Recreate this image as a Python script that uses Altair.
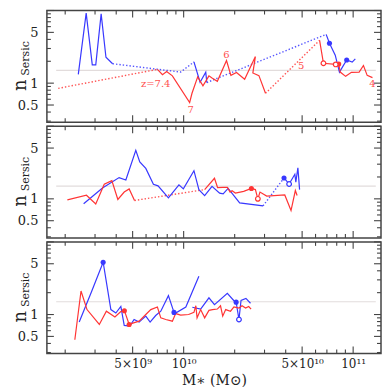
import altair as alt
import pandas as pd

# ---------------- data (M* in solar masses, n_Sersic) ----------------
# Panel 1
P1_BLUE_M = [2.39e9, 2.66e9, 2.89e9, 3.03e9, 3.26e9, 3.48e9, 3.81e9, 9.6e9, 1.15e10, 1.25e10,
             1.35e10, 1.37e10, 6.93e10, 7.25e10, 7.84e10, 8.3e10, 9.16e10, 9.87e10, 1.03e11]
P1_BLUE_N = [1.32, 9.2, 1.79, 1.79, 9.0, 2.27, 1.85, 1.42, 1.96, 1.03,
             1.42, 1.02, 4.69, 3.55, 2.43, 1.42, 2.08, 1.95, 2.16]
P1_BLUE_DOTTED = [6, 7, 11]
P1_RED_M = [1.82e9, 7.0e9, 7.5e9, 7.94e9, 8.58e9, 1.085e10, 1.12e10, 1.21e10, 1.3e10, 1.41e10,
            1.47e10, 1.58e10, 1.79e10, 1.9e10, 2.05e10, 2.29e10, 2.65e10, 2.56e10, 2.78e10, 3.04e10,
            6.34e10, 6.68e10, 7.89e10, 8.22e10, 8.39e10, 9.03e10, 9.77e10, 1.085e11, 1.15e11, 1.21e11, 1.3e11]
P1_RED_N = [0.848, 1.55, 1.31, 1.45, 1.26, 0.542, 0.726, 1.22, 0.92, 1.26,
            1.18, 1.06, 2.05, 1.28, 1.4, 1.13, 2.32, 1.38, 1.27, 0.726,
            3.89, 1.88, 1.81, 1.83, 1.42, 1.24, 1.41, 1.42, 1.75, 1.28, 1.19]
P1_RED_DOTTED = [0, 19]
P1_MARK_M = [7.25e10, 9.16e10, 6.68e10, 7.89e10, 8.22e10]
P1_MARK_N = [3.55, 2.08, 1.88, 1.81, 1.83]
P1_MARK_C = ["b", "b", "r", "r", "r"]
P1_MARK_FILLED = [True, True, False, False, True]
P1_LABEL_T = ["z=7.4", "7", "6", "5", "4"]
P1_LABEL_M = [6.84e9, 1.1e10, 1.79e10, 4.94e10, 1.30e11]
P1_LABEL_N = [0.98, 0.43, 2.47, 1.71, 0.97]

# Panel 2
P2_BLUE_M = [2.57e9, 3.32e9, 4.16e9, 4.56e9, 5.22e9, 5.51e9, 5.98e9, 6.63e9, 7.06e9, 8.13e9,
             9.38e9, 9.96e9, 1.15e10, 1.23e10, 1.33e10, 1.47e10, 1.63e10, 1.71e10, 1.83e10, 2.14e10,
             2.94e10, 3.91e10, 4.19e10, 4.53e10, 4.59e10, 4.72e10, 4.83e10]
P2_BLUE_N = [0.855, 1.41, 1.96, 1.82, 4.64, 3.23, 2.62, 1.59, 1.51, 1.03,
             1.56, 1.37, 2.44, 1.34, 1.11, 1.49, 1.2, 1.17, 1.39, 0.88,
             0.8, 1.94, 1.6, 2.18, 1.7, 2.68, 1.34]
P2_BLUE_DOTTED = [20]
P2_RED_M = [2.06e9, 2.67e9, 3.03e9, 3.4e9, 3.77e9, 4.09e9, 4.46e9, 4.77e9, 5.13e9, 1.33e10,
            1.52e10, 1.585e10, 1.7e10, 1.81e10, 1.88e10, 1.93e10, 2.02e10, 2.26e10, 2.51e10, 2.65e10,
            2.74e10, 2.82e10, 3.09e10, 3.95e10, 4.3e10, 4.56e10, 4.67e10]
P2_RED_N = [0.97, 1.12, 0.85, 1.59, 1.78, 0.98, 1.24, 1.37, 0.95, 1.34,
            1.92, 1.43, 1.44, 1.44, 1.24, 1.29, 1.2, 1.27, 1.39, 1.34,
            1.0, 1.24, 1.09, 1.13, 0.69, 1.3, 1.11]
P2_RED_DOTTED = [8]
P2_MARK_M = [2.51e10, 2.74e10, 3.91e10, 4.19e10]
P2_MARK_N = [1.39, 1.0, 1.94, 1.6]
P2_MARK_C = ["r", "r", "b", "b"]
P2_MARK_FILLED = [True, False, True, False]

# Panel 3
P3_BLUE_A_M = [2.42e9, 2.84e9, 3.35e9, 3.72e9, 3.98e9, 4.26e9, 4.46e9, 4.81e9, 5.1e9, 5.46e9,
               5.98e9, 6.34e9, 6.84e9, 7.33e9, 8.13e9, 8.77e9, 8.97e9, 1.03e10, 1.23e10]
P3_BLUE_A_N = [0.787, 1.98, 5.25, 1.17, 1.05, 1.29, 0.71, 0.695, 0.855, 0.787,
               0.95, 0.787, 0.97, 1.11, 1.82, 1.07, 1.05, 1.27, 3.37]
P3_BLUE_B_M = [1.125e10, 1.26e10, 1.41e10, 1.52e10, 1.81e10, 1.98e10, 2.04e10, 2.12e10, 2.18e10, 2.33e10, 2.48e10]
P3_BLUE_B_N = [1.26, 1.19, 1.7, 1.37, 1.96, 1.55, 1.48, 0.855, 1.56, 1.67, 1.43]
P3_RED_M = [2.28e9, 2.48e9, 2.69e9, 3.18e9, 3.5e9, 3.93e9, 4.26e9, 4.47e9, 4.77e9, 5.01e9,
            5.46e9, 5.98e9, 6.4e9, 7.0e9, 7.33e9, 7.84e9, 8.58e9, 8.97e9, 9.6e9, 1.07e10,
            1.15e10, 1.18e10, 1.2e10, 1.26e10, 1.33e10, 1.41e10, 1.48e10, 1.58e10, 1.65e10, 1.70e10,
            1.77e10, 1.89e10, 1.98e10, 2.12e10, 2.21e10, 2.32e10, 2.42e10, 2.5e10]
P3_RED_N = [0.45, 2.11, 1.17, 0.73, 1.11, 0.925, 1.1, 1.13, 0.73, 0.76,
            0.81, 1.0, 1.17, 1.27, 0.9, 0.855, 0.81, 1.03, 0.98, 1.0,
            1.07, 1.32, 0.9, 1.17, 0.9, 1.14, 1.17, 1.19, 1.32, 0.95,
            1.17, 1.11, 1.27, 1.23, 1.32, 1.23, 1.29, 1.19]
P3_MARK_M = [3.35e9, 8.77e9, 2.04e10, 2.12e10, 4.47e9, 4.77e9]
P3_MARK_N = [5.25, 1.07, 1.48, 0.855, 1.13, 0.73]
P3_MARK_C = ["b", "b", "b", "b", "r", "r"]
P3_MARK_FILLED = [True, True, True, False, True, True]

REF_M = [1.77e9, 1.36e11]
REF_N = [1.5, 1.5]

X_MAJOR = [5e9, 1e10, 5e10, 1e11]
X_MINOR = [2e9, 3e9, 4e9, 6e9, 7e9, 8e9, 9e9, 2e10, 3e10, 4e10, 6e10, 7e10, 8e10, 9e10]
Y_MAJOR = [0.5, 1, 5, 10]
Y_MINOR = [0.3, 0.4, 0.6, 0.7, 0.8, 0.9, 2, 3, 4, 6, 7, 8, 9]
Y_LABELS = [0.5, 1, 5]

# ---------------- styling ----------------
W, H = 335, 112
BLUE, RED = "#3838ff", "#ff3535"
FONT = "DejaVu Serif"
FRAME = "#444444"
xs = alt.Scale(type="log", domain=[1.56e9, 1.46e11], nice=False)
ys = alt.Scale(type="log", domain=[0.29, 10], nice=False)
cscale = alt.Scale(domain=["b", "r"], range=[BLUE, RED])

x_axis_bottom = alt.Axis(
    values=X_MAJOR, ticks=False, domain=False, grid=False,
    labelExpr="datum.value == 5e9 ? '5×10⁹' : datum.value == 1e10 ? '10¹⁰' : datum.value == 5e10 ? '5×10¹⁰' : '10¹¹'",
    labelFont=FONT, labelFontSize=12, labelColor="#222", labelPadding=5,
    title="M\u2217 (M\u2299)", titleFont=FONT, titleFontSize=14, titleFontWeight="normal",
    titleColor="#222", titlePadding=4)
y_axis = alt.Axis(values=Y_LABELS, format="~g", ticks=False, domain=False, grid=False,
                  labelFont=FONT, labelFontSize=13, labelColor="#222", labelPadding=9,
                  title=None)


def runs(m, n, dotted, name):
    rows = []
    seg = 0
    cur = None
    for i in range(len(m) - 1):
        style = "dot" if i in dotted else "solid"
        if style != cur:
            seg += 1
            cur = style
            rows.append(dict(m=m[i], n=n[i], seg=f"{name}{seg}", style=style, c=name[0], o=i))
        rows.append(dict(m=m[i + 1], n=n[i + 1], seg=f"{name}{seg}", style=style, c=name[0], o=i + 1))
    return rows


def panel(paths, marks, labels=None, bottom=False):
    xa = x_axis_bottom if bottom else None

    def X(f):
        return alt.X(f"{f}:Q", scale=xs, axis=xa)

    def Y(f):
        return alt.Y(f"{f}:Q", scale=ys, axis=y_axis)

    rows = []
    for p in paths:
        rows += runs(*p)
    df = pd.DataFrame(rows)
    layers = []
    ref = pd.DataFrame({"m": REF_M, "n": REF_N})
    layers.append(alt.Chart(ref).mark_line(color="#e2dcdc", strokeWidth=1.2).encode(x=X("m"), y=Y("n")))
    for style, kw in [("dot", dict(strokeDash=[1.4, 2.0], strokeWidth=1.4, opacity=0.85)),
                      ("solid", dict(strokeWidth=1.2))]:
        sub = df[df["style"] == style]
        if len(sub):
            layers.append(alt.Chart(sub).mark_line(**kw).encode(
                x=X("m"), y=Y("n"),
                color=alt.Color("c:N", scale=cscale, legend=None),
                detail="seg:N", order="o:Q"))
    mk = pd.DataFrame({"m": marks[0], "n": marks[1], "c": marks[2], "f": marks[3]})
    layers.append(alt.Chart(mk[mk["f"]]).mark_circle(size=26, opacity=1).encode(
        x=X("m"), y=Y("n"), color=alt.Color("c:N", scale=cscale, legend=None)))
    if (~mk["f"]).any():
        layers.append(alt.Chart(mk[~mk["f"]]).mark_point(size=22, strokeWidth=1.2, filled=False,
                                                         fill="white", fillOpacity=1, opacity=1).encode(
            x=X("m"), y=Y("n"), color=alt.Color("c:N", scale=cscale, legend=None)))
    if labels is not None:
        lb = pd.DataFrame({"t": labels[0], "m": labels[1], "n": labels[2]})
        layers.append(alt.Chart(lb).mark_text(font=FONT, fontSize=10, color="#ff5050").encode(
            x=X("m"), y=Y("n"), text="t:N"))
    # inward ticks on all four sides
    for vals, ln in [(X_MAJOR, 7), (X_MINOR, 4)]:
        d = pd.DataFrame({"v": vals})
        layers.append(alt.Chart(d).mark_rule(color=FRAME, strokeWidth=1.1).encode(
            x=X("v"), y=alt.value(H), y2=alt.value(H - ln)))
        layers.append(alt.Chart(d).mark_rule(color=FRAME, strokeWidth=1.1).encode(
            x=X("v"), y=alt.value(0), y2=alt.value(ln)))
    for vals, ln in [(Y_MAJOR, 7), (Y_MINOR, 4)]:
        d = pd.DataFrame({"v": vals})
        layers.append(alt.Chart(d).mark_rule(color=FRAME, strokeWidth=1.1).encode(
            y=Y("v"), x=alt.value(0), x2=alt.value(ln)))
        layers.append(alt.Chart(d).mark_rule(color=FRAME, strokeWidth=1.1).encode(
            y=Y("v"), x=alt.value(W), x2=alt.value(W - ln)))
    # invisible spacer fixing the left margin of the plot area
    layers.append(alt.Chart(pd.DataFrame({"t": [0]})).mark_rule(strokeWidth=0.01, opacity=0).encode(
        x=alt.value(-38), x2=alt.value(-37.9), y=alt.value(50)))
    # y title: n with subscript "Sersic"
    layers.append(alt.Chart(pd.DataFrame({"t": ["n"]})).mark_text(
        font=FONT, fontSize=18, angle=270, align="center", baseline="alphabetic", color="#222").encode(
        x=alt.value(-21), y=alt.value(75), text="t:N"))
    layers.append(alt.Chart(pd.DataFrame({"t": ["Sersic"]})).mark_text(
        font=FONT, fontSize=11, angle=270, align="center", baseline="alphabetic", color="#222").encode(
        x=alt.value(-18), y=alt.value(48), text="t:N"))
    return alt.layer(*layers).properties(width=W, height=H)


p1 = panel([(P1_BLUE_M, P1_BLUE_N, P1_BLUE_DOTTED, "b1"), (P1_RED_M, P1_RED_N, P1_RED_DOTTED, "r1")],
           (P1_MARK_M, P1_MARK_N, P1_MARK_C, P1_MARK_FILLED),
           labels=(P1_LABEL_T, P1_LABEL_M, P1_LABEL_N))
p2 = panel([(P2_BLUE_M, P2_BLUE_N, P2_BLUE_DOTTED, "b2"), (P2_RED_M, P2_RED_N, P2_RED_DOTTED, "r2")],
           (P2_MARK_M, P2_MARK_N, P2_MARK_C, P2_MARK_FILLED))
p3 = panel([(P3_BLUE_A_M, P3_BLUE_A_N, [], "b3a"), (P3_BLUE_B_M, P3_BLUE_B_N, [], "b3b"),
            (P3_RED_M, P3_RED_N, [], "r3")],
           (P3_MARK_M, P3_MARK_N, P3_MARK_C, P3_MARK_FILLED), bottom=True)

chart = alt.vconcat(p1, p2, p3, spacing=0).properties(
    padding={"left": 0, "top": 0, "right": 0, "bottom": 0}, background="white"
).configure_view(stroke=FRAME, strokeWidth=1.5)

chart.save("out.html", embed_options={"renderer": "svg", "actions": False})
